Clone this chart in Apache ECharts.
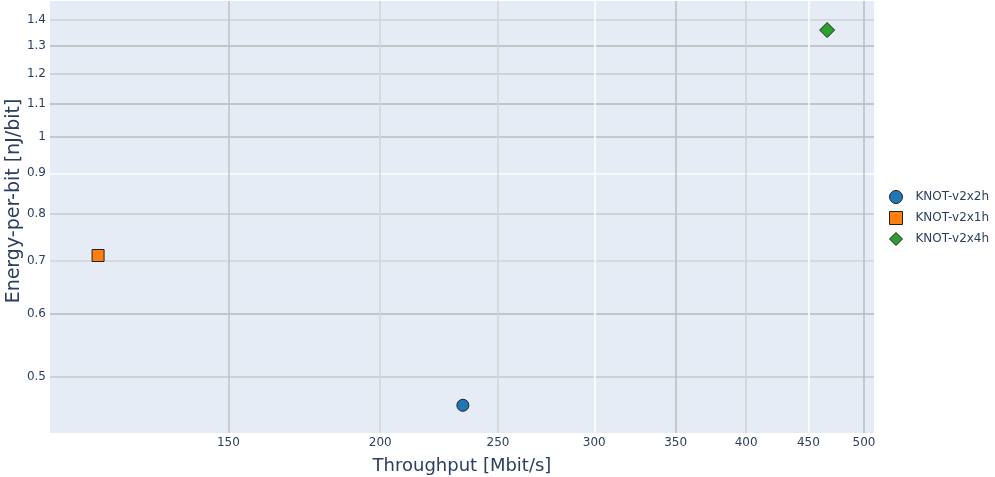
<!DOCTYPE html>
<html>
<head>
<meta charset="utf-8">
<script src="https://cdn.jsdelivr.net/npm/echarts@6/dist/echarts.min.js"></script>
<style>
  html, body { margin: 0; padding: 0; background: #fff; }
  #chart { width: 995px; height: 477px; }
</style>
</head>
<body>
<div id="chart"></div>
<script>
// series: [throughput Mbit/s, energy nJ/bit]
const seriesNames = ['KNOT-v2x2h', 'KNOT-v2x1h', 'KNOT-v2x4h'];
const seriesSymbols = ['circle', 'rect', 'diamond'];
const seriesColors = ['#1f77b4', '#ff7f0e', '#2ca02c'];
const seriesPoints = [
    [[233.9, 0.461]],
    [[117.2, 0.710]],
    [[466.3, 1.360]],
];
const xTicks = [150, 200, 250, 300, 350, 400, 450, 500];
const yTicks = [0.5, 0.6, 0.7, 0.8, 0.9, 1, 1.1, 1.2, 1.3, 1.4];

const xLineColors = ['#c2c2c2', '#d4d4d4', '#d4d4d4', '#ffffff', '#bdbdbd', '#d0d0d0', '#ffffff', '#bdbdbd'];
const yLineColors = ['#c8c8c8', '#b8b8b8', '#d4d4d4', '#c8c8c8', '#ffffff', '#bdbdbd', '#b8b8b8', '#c8c8c8', '#b8b8b8', '#d0d0d0'];

const textColor = '#2a3f5f';
const fontFamily = '"DejaVu Sans", Verdana, sans-serif';

const chart = echarts.init(document.getElementById('chart'));
chart.setOption({
    animation: false,
    textStyle: {fontFamily: fontFamily},
    grid: {
        left: 50, right: 121, top: 1, bottom: 44,
        outerBoundsMode: 'none', containLabel: false,
        show: true, backgroundColor: '#e5ecf6', borderWidth: 0,
    },
    legend: {
        orient: 'vertical',
        left: 884,
        top: 185,
        itemWidth: 13,
        itemHeight: 13,
        itemGap: 7,
        itemStyle: {borderWidth: 1},
        textStyle: {color: textColor, fontSize: 12, fontFamily: fontFamily, padding: [0, 0, 0, 8]},
        data: seriesNames,
    },
    xAxis: {
        type: 'log',
        logBase: 10,
        min: 107,
        max: 509.6,
        name: 'Throughput [Mbit/s]',
        nameLocation: 'middle',
        nameGap: 24,
        nameTextStyle: {color: textColor, fontSize: 18, fontFamily: fontFamily},
        axisLine: {show: false},
        axisTick: {show: false, customValues: xTicks},
        axisLabel: {color: textColor, fontSize: 12, margin: 4, customValues: xTicks, formatter: (v) => String(Math.round(v))},
        splitLine: {show: true, lineStyle: {color: xLineColors, width: 1.5}},
    },
    yAxis: {
        type: 'log',
        logBase: 10,
        min: 0.4256,
        max: 1.479,
        name: 'Energy-per-bit [nJ/bit]',
        nameLocation: 'middle',
        nameGap: 26,
        nameMoveOverlap: false,
        nameTextStyle: {color: textColor, fontSize: 19, fontFamily: fontFamily, padding: [0, 0, 0, 32]},
        axisLine: {show: false},
        axisTick: {show: false, customValues: yTicks},
        axisLabel: {color: textColor, fontSize: 12, margin: 4, customValues: yTicks, formatter: (v) => String(Math.round(v * 10) / 10)},
        splitLine: {show: true, lineStyle: {color: yLineColors, width: 1.5}},
    },
    series: seriesNames.map((name, i) => ({
        name: name,
        type: 'scatter',
        data: seriesPoints[i],
        symbol: seriesSymbols[i],
        symbolSize: i === 2 ? 15 : 12,
        itemStyle: {color: seriesColors[i], opacity: 1, borderColor: '#222', borderWidth: 1},
    })),
});
</script>
</body>
</html>
